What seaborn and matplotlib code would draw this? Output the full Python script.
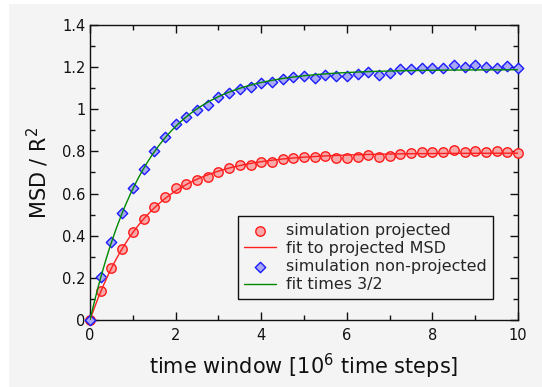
import numpy as np
import pandas as pd
import matplotlib
matplotlib.use("Agg")
import matplotlib.pyplot as plt
from matplotlib.patches import Rectangle
from matplotlib.ticker import MultipleLocator
import seaborn as sns

# time windows in units of 10^6 time steps
time_window = [i * 0.25 for i in range(41)]

msd_projected = [
    0.000, 0.138, 0.248, 0.335, 0.416, 0.480, 0.534, 0.582, 0.625, 0.644,
    0.664, 0.680, 0.704, 0.720, 0.736, 0.735, 0.750, 0.750, 0.763, 0.767,
    0.772, 0.775, 0.778, 0.770, 0.770, 0.773, 0.781, 0.772, 0.778, 0.788,
    0.791, 0.797, 0.797, 0.796, 0.805, 0.797, 0.804, 0.799, 0.800, 0.799,
    0.794,
]

msd_full = [
    0.000, 0.206, 0.372, 0.506, 0.625, 0.717, 0.804, 0.870, 0.929, 0.964,
    0.997, 1.022, 1.057, 1.076, 1.096, 1.107, 1.126, 1.131, 1.142, 1.152,
    1.157, 1.150, 1.164, 1.158, 1.160, 1.168, 1.177, 1.163, 1.172, 1.190,
    1.190, 1.195, 1.198, 1.198, 1.209, 1.203, 1.209, 1.203, 1.198, 1.206,
    1.195,
]

x_ticks = [0, 2, 4, 6, 8, 10]
y_ticks = [0, 0.2, 0.4, 0.6, 0.8, 1, 1.2, 1.4]
y_tick_labels = ["0", "0.2", "0.4", "0.6", "0.8", "1", "1.2", "1.4"]

t = np.array(time_window)
yp = np.array(msd_projected)

# least-squares fit of a * (1 - exp(-t / tau)) to the projected MSD
best = None
for tau in np.linspace(0.3, 4.0, 3701):
    f = 1.0 - np.exp(-t / tau)
    a = np.dot(yp, f) / np.dot(f, f)
    err = np.sum((yp - a * f) ** 2)
    if best is None or err < best[0]:
        best = (err, a, tau)
_, a_fit, tau_fit = best

t_dense = np.linspace(0, 10, 400)
fit_proj = a_fit * (1.0 - np.exp(-t_dense / tau_fit))

points = pd.DataFrame({"t": t, "proj": yp, "full": np.array(msd_full)})
fits = pd.DataFrame({"t": t_dense, "proj": fit_proj, "full": 1.5 * fit_proj})

sns.set_style("ticks")
plt.rcParams["font.family"] = ["DejaVu Sans"]
bg = "#f4f4f4"

fig = plt.figure(figsize=(5.42, 3.87), dpi=100, facecolor="white")
fig.patches.append(Rectangle((9 / 542, 0), 1, 1 - 4 / 387, transform=fig.transFigure,
                             facecolor=bg, edgecolor="none", zorder=-10))
ax = fig.add_axes([90 / 542, 67 / 387, 428 / 542, 295 / 387])
ax.set_facecolor(bg)

sns.scatterplot(data=points, x="t", y="proj", ax=ax, marker="o", s=46,
                facecolor="#f7a8a8", edgecolor="#ff1a1a", linewidth=1.0,
                label="simulation projected", zorder=3, clip_on=False)
sns.lineplot(data=fits, x="t", y="proj", ax=ax, color="#ff2020", linewidth=1.0,
             label="fit to projected MSD", zorder=4)
sns.scatterplot(data=points, x="t", y="full", ax=ax, marker="D", s=28,
                facecolor="#a8a8f4", edgecolor="#1a1aff", linewidth=1.0,
                label="simulation non-projected", zorder=3, clip_on=False)
sns.lineplot(data=fits, x="t", y="full", ax=ax, color="#008800", linewidth=1.0,
             label="fit times 3/2", zorder=4)

ax.set_xlim(0, 10)
ax.set_ylim(0, 1.4)
ax.set_xticks(x_ticks)
ax.set_yticks(y_ticks)
ax.set_xticklabels([str(v) for v in x_ticks])
ax.set_yticklabels(y_tick_labels)
ax.xaxis.set_minor_locator(MultipleLocator(1))
ax.yaxis.set_minor_locator(MultipleLocator(0.1))
ax.tick_params(which="both", direction="in", top=True, right=True, width=1.0,
               colors="#111111", labelsize=10.5)
ax.tick_params(which="major", length=6, pad=6)
ax.tick_params(which="minor", length=3.5)
ax.tick_params(axis="y", pad=3)
for sp in ax.spines.values():
    sp.set_linewidth(1.0)
    sp.set_color("#111111")

ax.set_xlabel("time window [10$^6$ time steps]", fontsize=15, labelpad=6, color="#111111")
ax.set_ylabel("MSD / R$^2$", fontsize=15, labelpad=8, color="#111111")

leg = ax.legend(loc="lower right", bbox_to_anchor=(0.941, 0.072), fontsize=11.5,
                frameon=True, fancybox=False, framealpha=1, facecolor=bg,
                edgecolor="#111111", borderpad=0.4, labelspacing=0.2,
                handlelength=2.0, handletextpad=0.6, borderaxespad=0)
leg.get_frame().set_linewidth(1.0)

fig.savefig("out.png", dpi=100, facecolor="white")
